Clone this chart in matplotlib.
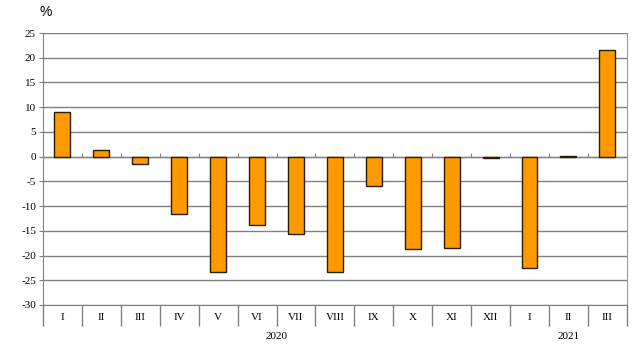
import matplotlib.pyplot as plt
import matplotlib.transforms as mtransforms

plt.rcParams["font.family"] = "Liberation Serif"
plt.rcParams["font.size"] = 8
plt.rcParams["axes.unicode_minus"] = False

months = ["I", "II", "III", "IV", "V", "VI", "VII", "VIII", "IX", "X", "XI", "XII",
          "I", "II", "III"]
values = [9.0, 1.3, -1.4, -11.5, -23.4, -13.9, -15.7, -23.3, -5.9, -18.7, -18.4, -0.2,
          -22.6, 0.1, 21.6]
years = ["2020", "2021"]
year_counts = [12, 3]

ymin, ymax = -30, 25

fig = plt.figure(figsize=(6.37, 3.53), dpi=100)
ax = fig.add_axes([0.0675, 0.136, 0.9165, 0.7705])

n = len(months)
x = list(range(n))
ax.bar(x, values, width=0.41, color="#FF9900", edgecolor="#2b1d00", linewidth=1.0, zorder=3)

ax.set_xlim(-0.5, n - 0.5)
ax.set_ylim(ymin, ymax)
ax.set_yticks(range(ymin, ymax + 1, 5))
ax.yaxis.grid(True, color="#808080", linewidth=1.0)
ax.set_axisbelow(True)
ax.tick_params(axis="y", direction="out", length=3, color="#808080", pad=2)

ax.spines["top"].set_visible(False)
ax.spines["right"].set_color("#999999")
ax.spines["left"].set_color("#808080")
ax.spines["bottom"].set_color("#808080")

# category separators below plot
bounds = [i - 0.5 for i in range(n + 1)]
year_bounds = [-0.5]
for c in year_counts:
    year_bounds.append(year_bounds[-1] + c)
ax.set_xticks(bounds)
ax.set_xticklabels([])
ax.tick_params(axis="x", direction="out", length=15, color="#808080", width=1.0)
ax.set_xticks(year_bounds, minor=True)
ax.tick_params(axis="x", which="minor", direction="out", length=26, color="#808080", width=1.0)

trans = mtransforms.blended_transform_factory(ax.transData, ax.transAxes)
for i, m in enumerate(months):
    ax.text(i, -0.045, m, transform=trans, ha="center", va="center", fontsize=8)
for j, y in enumerate(years):
    cx = (year_bounds[j] + year_bounds[j + 1]) / 2
    ax.text(cx, -0.115, y, transform=trans, ha="center", va="center", fontsize=8)

# zero line with small ticks
zero_pos = (0 - ymin) / (ymax - ymin)
sec = ax.secondary_xaxis(zero_pos)
sec.set_xticks(bounds)
sec.set_xticklabels([])
sec.tick_params(direction="out", length=3, color="#808080")
sec.spines["bottom"].set_color("#808080")

fig.text(0.062, 0.965, "%", family="Liberation Sans", fontsize=10, ha="left", va="center")

fig.savefig("out.png", dpi=100)
